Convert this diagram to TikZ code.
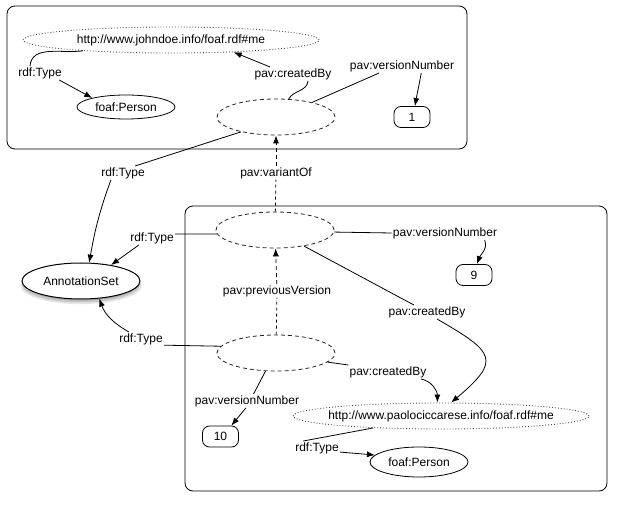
\documentclass[tikz,border=0pt]{standalone}
\usepackage{fontspec}
\setmainfont{Liberation Sans}
\usetikzlibrary{shapes.geometric, arrows.meta, shadows}
\tikzstyle{group} = [rectangle, rounded corners=8pt, draw=black, line width=0.8pt]
\tikzstyle{uri} = [ellipse, draw=black!70, dotted, line width=0.9pt, minimum width=296pt, minimum height=26pt, inner sep=0pt]
\tikzstyle{version} = [ellipse, draw=black!85, dash pattern=on 4pt off 3pt, line width=0.8pt, minimum width=118pt, minimum height=36pt, inner sep=0pt]
\tikzstyle{concept} = [ellipse, draw=black, line width=0.8pt, minimum width=98pt, minimum height=26pt, inner sep=0pt]
\tikzstyle{numbox} = [rectangle, rounded corners=7pt, draw=black, line width=0.8pt, minimum width=36pt, minimum height=21pt]
\tikzstyle{prop} = [inner sep=1pt]
\tikzstyle{arrow} = [line width=0.8pt, ->, >={Latex[length=8pt,width=6pt]}]
\tikzstyle{dasharrow} = [arrow, dash pattern=on 4pt off 3pt]

\begin{document}
\begin{tikzpicture}[x=1pt, y=1pt, font=\fontsize{12}{14}\selectfont, line width=0.8pt]
    \useasboundingbox (0,0) rectangle (619,-505);
    % groups
    \node (box1) [group, minimum width=460pt, minimum height=143pt] at (237,-77.5) {};
    \node (box2) [group, minimum width=422pt, minimum height=285pt] at (396,-348.5) {};

    % first version
    \node (uri1) [uri] at (171,-40) {http://www.johndoe.info/foaf.rdf\#me};
    \node (cls1) [concept, minimum height=24pt] at (126,-107) {foaf:Person};
    \node (ver1) [version] at (276,-117) {};
    \node (num1) [numbox] at (412,-117) {1};
    \node (type1) [prop] at (40,-73) {rdf:Type};
    \node (by1) [prop] at (293,-74) {pav:createdBy};
    \node (vn1) [prop] at (402,-66) {pav:versionNumber};

    \node (set) [ellipse, draw=black, fill=white, line width=1pt, minimum width=118pt, minimum height=36pt, inner sep=0pt,
        drop shadow={shadow xshift=0pt, shadow yshift=-4.5pt, shadow scale=1.03, opacity=0.2},
        drop shadow={shadow xshift=0pt, shadow yshift=-3.5pt, opacity=0.3},
        drop shadow={shadow xshift=0pt, shadow yshift=-2pt, shadow scale=0.98, opacity=0.4}] at (81,-281) {AnnotationSet};
    \node (type2) [prop] at (123,-173) {rdf:Type};
    \node (variant) [prop] at (276,-173) {pav:variantOf};

    % later versions
    \node (ver2) [version] at (275,-230) {};
    \node (type3) [prop] at (152,-238) {rdf:Type};
    \node (vn2) [prop] at (445,-233) {pav:versionNumber};
    \node (num2) [numbox] at (474,-275) {9};
    \node (previous) [prop] at (277,-291) {pav:previousVersion};
    \node (by2) [prop] at (427,-312) {pav:createdBy};
    \node (type4) [prop] at (141,-339) {rdf:Type};
    \node (ver3) [version] at (276,-353) {};
    \node (by3) [prop] at (388,-372) {pav:createdBy};
    \node (vn3) [prop] at (247,-401) {pav:versionNumber};
    \node (uri2) [uri, inner xsep=-20pt] at (441,-416) {http://www.paolociccarese.info/foaf.rdf\#me};
    \node (num3) [numbox] at (220.5,-436.5) {10};
    \node (type5) [prop] at (317,-448) {rdf:Type};
    \node (cls2) [concept, minimum height=30pt] at (419,-462) {foaf:Person};

    \draw (uri1.187) to[out=188, in=85] (type1.145);
    \draw [arrow] (type1.-20) -- (cls1.165);
    \draw (ver1.55) to[out=60, in=-95] (by1.-25);
    \draw [arrow] (by1.163) -- (uri1.-11);
    \draw (ver1.22) -- (vn1.197);
    \draw [arrow] (vn1.-20) to[out=-100, in=80] (num1.75);

    \draw (ver1.203) -- (type2.30);
    \draw [arrow] (type2.-150) to[out=-110, in=80] (set.66);
    \draw [dashed] (ver2) -- (variant);
    \draw [dasharrow] (variant) -- (ver1);

    \draw (ver2.184) -- (type3.10);
    \draw [arrow] (type3.208) -- (set.28);
    \draw (ver2.-2) -- (vn2.west);
    \draw [arrow] (vn2.-10) to[out=-70, in=70] (num2.75);
    \draw (ver2.-29) -- (by2.152);
    \draw [arrow] (by2.-35) to[out=-30, in=40, looseness=2] (uri2.53);

    \draw [dashed] (ver3) -- (previous);
    \draw [dasharrow] (previous) -- (ver2);
    \draw (ver3.173) -- (type4.-15);
    \draw [arrow] (type4.150) to[out=150, in=-70] (set.-44);
    \draw (ver3.-10) -- (by3.170);
    \draw [arrow] (by3.-12) to[out=-10, in=90] (uri2.105);
    \draw (ver3.-120) -- (vn3.47);
    \draw [arrow] (vn3.-100) -- (num3.45);
    \draw (uri2.190) -- (type5.153);
    \draw [arrow] (type5.-10) -- (cls2.171);
\end{tikzpicture}
\end{document}
